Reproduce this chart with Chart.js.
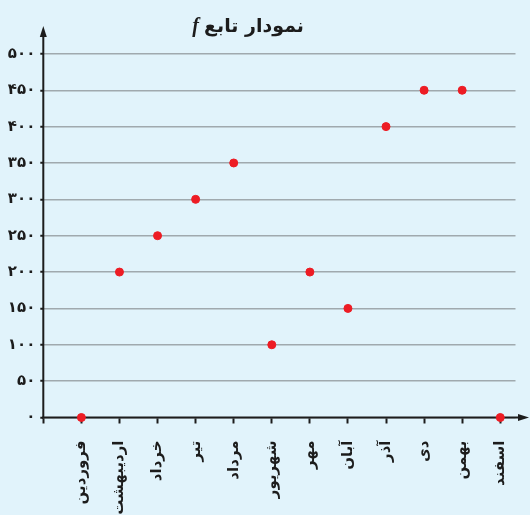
<!DOCTYPE html>
<html lang="fa">
<head>
<meta charset="utf-8">
<title>نمودار تابع f</title>
<script src="https://cdn.jsdelivr.net/npm/chart.js@4/dist/chart.umd.min.js"></script>
<style>
  html, body { margin: 0; padding: 0; background: #e1f3fb; }
  canvas { display: block; }
</style>
</head>
<body>
<canvas id="fChart" width="530" height="515"></canvas>
<script>
// months of the year and the value of f for each one
const months = ['فروردین', 'اردیبهشت', 'خرداد', 'تیر', 'مرداد', 'شهریور', 'مهر', 'آبان', 'آذر', 'دی', 'بهمن', 'اسفند'];
const values = [0, 200, 250, 300, 350, 100, 200, 150, 400, 450, 450, 0];
const yTicks = [0, 50, 100, 150, 200, 250, 300, 350, 400, 450, 500];
const yTickLabels = ['۰', '۵۰', '۱۰۰', '۱۵۰', '۲۰۰', '۲۵۰', '۳۰۰', '۳۵۰', '۴۰۰', '۴۵۰', '۵۰۰'];

const FONT = '"DejaVu Sans", sans-serif';
const INK = '#1c1c1c';

// background, arrowed axes and the title
const axisArrows = {
    id: 'axisArrows',
    beforeDraw(chart) {
        const ctx = chart.ctx;
        ctx.save();
        ctx.fillStyle = '#e1f3fb';
        ctx.fillRect(0, 0, chart.width, chart.height);
        ctx.restore();
    },
    beforeDatasetsDraw(chart) {
        const { ctx, chartArea: a } = chart;
        const x0 = chart.scales.x.getPixelForValue(-1);
        const y0 = chart.scales.y.getPixelForValue(0);
        ctx.save();
        ctx.strokeStyle = INK;
        ctx.fillStyle = INK;
        ctx.lineWidth = 2;

        // y axis
        ctx.beginPath();
        ctx.moveTo(x0, y0 + 1);
        ctx.lineTo(x0, a.top + 6);
        ctx.stroke();
        ctx.beginPath();
        ctx.moveTo(x0, a.top - 1);
        ctx.lineTo(x0 - 3.5, a.top + 10);
        ctx.lineTo(x0 + 3.5, a.top + 10);
        ctx.closePath();
        ctx.fill();

        // x axis
        const xEnd = chart.width - 1;
        ctx.beginPath();
        ctx.moveTo(x0 - 1, y0);
        ctx.lineTo(xEnd - 6, y0);
        ctx.stroke();
        ctx.beginPath();
        ctx.moveTo(xEnd, y0);
        ctx.lineTo(xEnd - 11, y0 - 3.5);
        ctx.lineTo(xEnd - 11, y0 + 3.5);
        ctx.closePath();
        ctx.fill();
        ctx.restore();
    },
    afterDraw(chart) {
        const ctx = chart.ctx;
        ctx.save();
        ctx.fillStyle = INK;
        ctx.textBaseline = 'alphabetic';
        ctx.textAlign = 'right';
        ctx.font = 'bold 19px ' + FONT;
        ctx.fillText('نمودار تابع', 304, 32);
        const w = ctx.measureText('نمودار تابع').width;
        ctx.font = 'italic bold 20px "Liberation Serif", serif';
        ctx.fillText('f', 304 - w - 5, 32);
        ctx.restore();
    }
};

const points = values.map((v, i) => ({ x: i, y: v }));

new Chart(document.getElementById('fChart'), {
    type: 'scatter',
    data: {
        datasets: [{
            data: points,
            backgroundColor: '#ed1c24',
            borderColor: '#ed1c24',
            pointRadius: 4,
            pointHoverRadius: 4,
            clip: false
        }]
    },
    options: {
        responsive: false,
        animation: false,
        events: [],
        layout: { padding: { top: 27, right: 14.5, left: 0, bottom: 0 } },
        plugins: {
            legend: { display: false },
            tooltip: { enabled: false }
        },
        scales: {
            x: {
                type: 'linear',
                min: -1,
                max: 11.4,
                afterBuildTicks: scale => {
                    scale.ticks = [-1].concat(months.map((m, i) => i)).map(v => ({ value: v }));
                },
                afterFit: scale => {
                    scale.height = 97.5;
                    scale.paddingLeft = 0;
                    scale.paddingRight = 0;
                },
                border: { display: false },
                grid: {
                    drawOnChartArea: false,
                    drawTicks: true,
                    tickLength: 6,
                    tickWidth: 2,
                    tickColor: INK
                },
                ticks: {
                    autoSkip: false,
                    minRotation: 90,
                    maxRotation: 90,
                    padding: 17,
                    color: INK,
                    font: { family: FONT, size: 15, weight: 'bold' },
                    callback: v => (v >= 0 ? months[v] : '')
                }
            },
            y: {
                min: 0,
                max: 537,
                afterBuildTicks: scale => {
                    scale.ticks = yTicks.map(v => ({ value: v }));
                },
                afterFit: scale => {
                    scale.width = 43.3;
                    scale.paddingTop = 0;
                    scale.paddingBottom = 0;
                },
                border: { display: false },
                grid: {
                    color: '#a0a9ae',
                    lineWidth: 1.5,
                    drawTicks: true,
                    tickLength: 3,
                    tickWidth: 2,
                    tickColor: INK
                },
                ticks: {
                    padding: 5,
                    color: INK,
                    font: { family: FONT, size: 15, weight: 'bold' },
                    callback: v => yTickLabels[yTicks.indexOf(v)]
                }
            }
        }
    },
    plugins: [axisArrows]
});
</script>
</body>
</html>
